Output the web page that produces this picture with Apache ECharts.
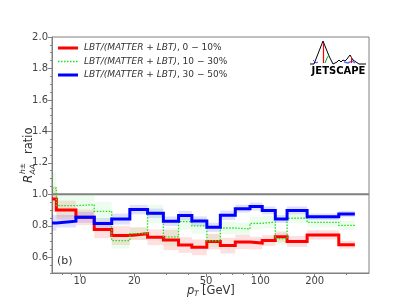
<!DOCTYPE html>
<html><head><meta charset="utf-8">
<script src="https://cdn.jsdelivr.net/npm/echarts@6/dist/echarts.min.js"></script>
<style>html,body{margin:0;padding:0;background:#fff}#c{width:411px;height:308px}</style>
</head><body><div id="c"></div>
<script>
// bin edges in pT [GeV]
const edges = [7, 7.4, 9.5, 12, 15, 18.9, 23.7, 29, 35.2, 41.7, 50.5, 60, 72.6, 87.6, 102.4, 121, 140.6, 181.6, 272, 334];
const red   = [0.97, 0.90, 0.854, 0.776, 0.738, 0.75, 0.727, 0.71, 0.678, 0.663, 0.70, 0.674, 0.697, 0.69, 0.706, 0.73, 0.70, 0.742, 0.68];
const green = [1.04, 0.928, 0.934, 0.892, 0.706, 0.75, 0.875, 0.73, 0.826, 0.80, 0.705, 0.786, 0.78, 0.816, 0.824, 0.718, 0.848, 0.822, 0.803];
const blue  = [0.818, 0.829, 0.854, 0.814, 0.843, 0.903, 0.88, 0.829, 0.865, 0.83, 0.79, 0.867, 0.909, 0.922, 0.898, 0.843, 0.898, 0.858, 0.875];
const redErr   = [0.08, 0.06, 0.05, 0.055, 0.06, 0.04, 0.05, 0.065, 0.05, 0.05, 0.05, 0.05, 0.045, 0.04, 0.035, 0.035, 0.035, 0.03, 0.025];
const greenErr = [0.10, 0.07, 0.07, 0.06, 0.05, 0.04, 0.06, 0.06, 0.05, 0.05, 0.04, 0.04, 0.04, 0.04, 0.04, 0.04, 0.03, 0.03, 0.03];
const blueErr  = [0.05, 0.04, 0.035, 0.035, 0.035, 0.03, 0.03, 0.03, 0.03, 0.03, 0.03, 0.03, 0.025, 0.025, 0.025, 0.025, 0.025, 0.02, 0.02];
const modelLabel = 'LBT/(MATTER + LBT)';
const centralities = ['0 − 10%', '10 − 30%', '30 − 50%'];
const xMajor = [10, 20, 50, 100, 200];
const xMinor = [8, 9, 30, 40, 60, 70, 80, 90, 300];
const yMajor = [0.6, 0.8, 1.0, 1.2, 1.4, 1.6, 1.8, 2.0];
const yMinor = [0.5, 0.55, 0.65, 0.7, 0.75, 0.85, 0.9, 0.95, 1.05, 1.1, 1.15, 1.25, 1.3, 1.35, 1.45, 1.5, 1.55, 1.65, 1.7, 1.75, 1.85, 1.9, 1.95];
const xMin = 7, xMax = 400, yMin = 0.5, yMax = 2.0;

const L = Math.log10;
function stepData(vals) {
  const d = [];
  vals.forEach((v, i) => { d.push([L(edges[i]), v]); d.push([L(edges[i + 1]), v]); });
  return d;
}
function bandData(vals, errs) {
  return vals.map((v, i) => [L(edges[i]), L(edges[i + 1]), v - errs[i], v + errs[i]]);
}
function band(vals, errs, fill) {
  return {
    type: 'custom', silent: true, z: 1, clip: true,
    renderItem: function (params, api) {
      const p0 = api.coord([api.value(0), api.value(3)]);
      const p1 = api.coord([api.value(1), api.value(2)]);
      return { type: 'rect', shape: { x: p0[0], y: p0[1], width: p1[0] - p0[0], height: p1[1] - p0[1] }, style: { fill: fill } };
    },
    encode: { x: [0, 1], y: [2, 3] },
    data: bandData(vals, errs)
  };
}
function line(vals, color, width, type) {
  return { type: 'line', data: stepData(vals), showSymbol: false, symbol: 'none', z: 3, silent: true,
    lineStyle: { color: color, width: width, type: type, join: 'miter' }, itemStyle: { color: color } };
}
const axisGray = '#808080';
const labelColor = '#444';
const font = 'DejaVu Sans';
const colors = ['#ff0000', '#22dd22', '#0000ff'];
const legendY = [48, 61.5, 75];

const legendGraphics = [];
centralities.forEach((c, i) => {
  legendGraphics.push({ type: 'line', shape: { x1: 58, y1: legendY[i], x2: 78, y2: legendY[i] },
    style: { stroke: colors[i], lineWidth: i === 1 ? 1.3 : 3, lineDash: i === 1 ? [1.5, 1.5] : null } });
  legendGraphics.push({ type: 'text', x: 84, y: legendY[i], style: {
    text: '{i|' + modelLabel + '}{n|, ' + c + '}', verticalAlign: 'middle',
    rich: { i: { fontStyle: 'italic', fontSize: 9, fontFamily: font, fill: '#333', color: '#333' },
            n: { fontSize: 9, fontFamily: font, fill: '#333', color: '#333' } } } });
});

const chart = echarts.init(document.getElementById('c'), null, { renderer: 'canvas' });
chart.setOption({
  animation: false,
  grid: { left: 52, right: 42, top: 37, bottom: 35, show: true, borderColor: axisGray, borderWidth: 1, backgroundColor: 'transparent' },
  xAxis: [{
    type: 'value', min: L(xMin), max: L(xMax),
    axisLine: { show: true, lineStyle: { color: axisGray, width: 1 } },
    splitLine: { show: false },
    axisTick: { show: true, length: 4, customValues: xMajor.map(L), lineStyle: { color: axisGray } },
    axisLabel: { show: true, margin: 3, customValues: xMajor.map(L), color: labelColor, fontSize: 10, fontFamily: font,
      formatter: v => String(Math.round(Math.pow(10, v))) }
  }, {
    type: 'value', min: L(xMin), max: L(xMax), position: 'bottom',
    axisLine: { show: false }, splitLine: { show: false }, axisLabel: { show: false },
    axisTick: { show: true, length: 2, customValues: xMinor.map(L), lineStyle: { color: axisGray } }
  }],
  yAxis: [{
    type: 'value', min: yMin, max: yMax,
    axisLine: { show: true, lineStyle: { color: axisGray, width: 1 } },
    splitLine: { show: false },
    axisTick: { show: true, length: 4, customValues: yMajor, lineStyle: { color: axisGray } },
    axisLabel: { show: true, margin: 4, customValues: yMajor, color: labelColor, fontSize: 10, fontFamily: font,
      formatter: v => v.toFixed(1) }
  }, {
    type: 'value', min: yMin, max: yMax, position: 'left',
    axisLine: { show: false }, splitLine: { show: false }, axisLabel: { show: false },
    axisTick: { show: true, length: 2, customValues: yMinor, lineStyle: { color: axisGray } }
  }],
  series: [
    band(red, redErr, 'rgba(255,0,0,0.12)'),
    band(green, greenErr, 'rgba(0,230,0,0.07)'),
    band(blue, blueErr, 'rgba(0,0,255,0.12)'),
    line(red, colors[0], 3, 'solid'),
    line(green, colors[1], 1.3, [1.5, 1.5]),
    line(blue, colors[2], 3, 'solid'),
    { type: 'line', data: [[L(xMin), 1.0], [L(xMax), 1.0]], showSymbol: false, symbol: 'none', z: 2,
      lineStyle: { color: '#808080', width: 2 }, silent: true }
  ],
  graphic: legendGraphics.concat([
    { type: 'group', x: 29, y: 183, rotation: Math.PI / 2, children: [
      { type: 'text', x: 0, y: 0, style: { text: 'R', font: 'italic 12px DejaVu Sans', fill: '#333', verticalAlign: 'middle' } },
      { type: 'text', x: 8.5, y: 4, style: { text: 'AA', font: 'italic 7.5px DejaVu Sans', fill: '#333', verticalAlign: 'middle' } },
      { type: 'text', x: 9, y: -6, style: { text: 'h±', font: 'italic 7.5px DejaVu Sans', fill: '#333', verticalAlign: 'middle' } },
      { type: 'text', x: 29, y: 0, style: { text: 'ratio', font: '11.5px DejaVu Sans', fill: '#333', verticalAlign: 'middle' } }
    ]},
    { type: 'group', x: 187, y: 291, children: [
      { type: 'text', x: 0, y: 0, style: { text: 'p', font: 'italic 11.5px DejaVu Sans', fill: '#333', verticalAlign: 'middle' } },
      { type: 'text', x: 7, y: 3, style: { text: 'T', font: 'italic 7.5px DejaVu Sans', fill: '#333', verticalAlign: 'middle' } },
      { type: 'text', x: 15, y: 0, style: { text: '[GeV]', font: '11.5px DejaVu Sans', fill: '#333', verticalAlign: 'middle' } }
    ]},
    { type: 'text', x: 57, y: 261, style: { text: '(b)', font: '11px DejaVu Sans', fill: '#333', verticalAlign: 'middle' } },
    // JETSCAPE logo
    { type: 'polyline', shape: { points: [[310,64],[314,64],[323,41],[329,56],[333,64],[337,62],[339,60],[341,62],[343,60],[345,61],[347,59],[350,55],[353,60],[356,62],[359,64],[366,64]] }, style: { stroke: '#000', lineWidth: 1, fill: null } },
    { type: 'line', shape: { x1: 323.5, y1: 43, x2: 323.5, y2: 63 }, style: { stroke: '#ff0000', lineWidth: 1.2 } },
    { type: 'polyline', shape: { points: [[325,63],[327,58],[329,55]] }, style: { stroke: '#00aa00', lineWidth: 1, fill: null } },
    { type: 'polyline', shape: { points: [[313,60],[316,63],[318,62]] }, style: { stroke: '#4444ff', lineWidth: 1, fill: null } },
    { type: 'polyline', shape: { points: [[344,62],[348,63],[352,61],[355,63]] }, style: { stroke: '#6666ff', lineWidth: 1.5, fill: null } },
    { type: 'line', shape: { x1: 351.5, y1: 57, x2: 351.5, y2: 63 }, style: { stroke: '#ff0000', lineWidth: 1 } },
    { type: 'text', x: 338.5, y: 71, style: { text: 'JETSCAPE', font: 'bold 10px DejaVu Sans', fill: '#000', align: 'center', verticalAlign: 'middle' } }
  ])
});
</script></body></html>
